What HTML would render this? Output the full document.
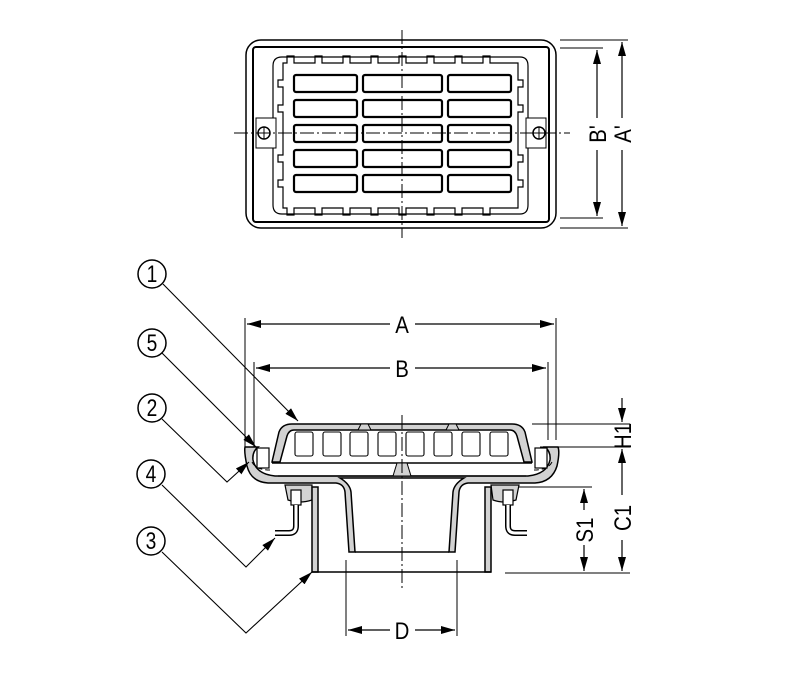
<!DOCTYPE html>
<html><head><style>html,body{margin:0;padding:0;background:#fff}svg{display:block}</style></head><body>
<svg width="800" height="679" viewBox="0 0 800 679" xmlns="http://www.w3.org/2000/svg" font-family="Liberation Sans, sans-serif">
<defs>
<marker id="ar" viewBox="0 0 14 8" refX="14" refY="4" markerWidth="14" markerHeight="8" orient="auto" markerUnits="userSpaceOnUse"><path d="M0,0 L14,4 L0,8z" fill="#000"/></marker>
</defs>
<g fill="none" stroke="#000" stroke-width="1.5">
<!-- TOP VIEW -->
<rect x="246" y="40" width="310" height="188" rx="15"/>
<rect x="253" y="47" width="296" height="175" rx="3" stroke-width="2"/>
<path d="M282,57 H520 Q528,57 528,66 V205 Q528,214 520,214 H282 Q273,214 273,205 V66 Q273,57 282,57Z" stroke-width="1.2"/>
<path d="M283,63 h4 v-7 h7 v7 h21 v-7 h7 v7 h21 v-7 h7 v7 h21 v-7 h7 v7 h21 v-7 h7 v7 h21 v-7 h7 v7 h21 v-7 h7 v7 h21 v-7 h7 v7 h28 V80 h5 v7 h-5 V105 h5 v7 h-5 V155 h5 v7 h-5 V180 h5 v7 h-5 V208 h-28 v7 h-7 v-7 h-21 v7 h-7 v-7 h-21 v7 h-7 v-7 h-21 v7 h-7 v-7 h-21 v7 h-7 v-7 h-21 v7 h-7 v-7 h-21 v7 h-7 v-7 h-21 v7 h-7 v-7 h-4 V187 h-5 v-7 h5 V162 h-5 v-7 h5 V112 h-5 v-7 h5 V87 h-5 v-7 h5 Z" stroke-width="1.2"/>
<g stroke-width="2.2">
<rect x="294" y="75" width="63" height="17" rx="2"/><rect x="363" y="75" width="79" height="17" rx="2"/><rect x="448" y="75" width="63" height="17" rx="2"/>
<rect x="294" y="100" width="63" height="17" rx="2"/><rect x="363" y="100" width="79" height="17" rx="2"/><rect x="448" y="100" width="63" height="17" rx="2"/>
<rect x="294" y="125" width="63" height="17" rx="2"/><rect x="363" y="125" width="79" height="17" rx="2"/><rect x="448" y="125" width="63" height="17" rx="2"/>
<rect x="294" y="150" width="63" height="17" rx="2"/><rect x="363" y="150" width="79" height="17" rx="2"/><rect x="448" y="150" width="63" height="17" rx="2"/>
<rect x="294" y="175" width="63" height="17" rx="2"/><rect x="363" y="175" width="79" height="17" rx="2"/><rect x="448" y="175" width="63" height="17" rx="2"/>
</g>
<rect x="256" y="118" width="20" height="30" stroke-width="1" fill="#fff"/><rect x="526" y="118" width="20" height="30" stroke-width="1" fill="#fff"/>
<circle cx="264" cy="133" r="6"/><circle cx="539" cy="133" r="6"/>
<path d="M264,127v12M258,133h12M539,127v12M533,133h12" stroke-width="1"/>
<path d="M402,30 V238 M234,133 H570" stroke-width="1" stroke-dasharray="14,3,2,3"/>
<!-- dims top -->
<path d="M560,40 H628 M560,228 H628 M560,48 H603 M560,218 H603" stroke-width="1"/>
<path d="M597,118 V50" marker-end="url(#ar)" stroke-width="1.2"/><path d="M597,150 V216" marker-end="url(#ar)" stroke-width="1.2"/>
<path d="M622,118 V42" marker-end="url(#ar)" stroke-width="1.2"/><path d="M622,150 V226" marker-end="url(#ar)" stroke-width="1.2"/>

<!-- SIDE VIEW dims -->
<path d="M245,318 V447 M556,318 V440 M254,362 V447 M548,362 V440" stroke-width="1"/>
<path d="M390,324 H247" marker-end="url(#ar)" stroke-width="1.2"/><path d="M415,324 H554" marker-end="url(#ar)" stroke-width="1.2"/>
<path d="M390,368 H256" marker-end="url(#ar)" stroke-width="1.2"/><path d="M415,368 H546" marker-end="url(#ar)" stroke-width="1.2"/>
<path d="M532,424 H630 M540,447 H630 M515,487 H592 M505,573 H630 M346,560 V636 M457,560 V636" stroke-width="1"/>
<path d="M622,398 V422" marker-end="url(#ar)" stroke-width="1.2"/>
<path d="M622,495 V449" marker-end="url(#ar)" stroke-width="1.2"/>
<path d="M622,540 V571" marker-end="url(#ar)" stroke-width="1.2"/>
<path d="M584,510 V489" marker-end="url(#ar)" stroke-width="1.2"/>
<path d="M584,545 V571" marker-end="url(#ar)" stroke-width="1.2"/>
<path d="M390,630 H348" marker-end="url(#ar)" stroke-width="1.2"/><path d="M415,630 H455" marker-end="url(#ar)" stroke-width="1.2"/>

<!-- frame (gray band) -->
<path d="M245,447 H258 Q252,452 253,460 Q256,474 275,476 H528 Q547,474 550,460 Q551,452 545,447 H558 Q560,452 557,466 Q552,482 535,483 H468 Q460,484 459,492 L455,552 H449 L453,492 Q454,484 464,478 H340 Q350,484 351,492 L355,552 H349 L345,492 Q344,484 336,483 H268 Q251,482 247,466 Q244,452 245,447Z" fill="#d2d2d2"/>
<path d="M252,462 Q256,470 270,470 M552,462 Q548,470 534,470" stroke-width="1" stroke-dasharray="5,3"/>
<path d="M355,552 H449" />
<!-- grate -->
<path d="M272,462 L279,432 Q282,424 292,424 H512 Q522,424 525,432 L532,462 H524 L517,436 Q515,430 510,430 H294 Q289,430 287,436 L280,462Z" fill="#d2d2d2"/>
<path d="M272,463 H532"/>
<path d="M278,476 H526" stroke-width="1.2"/>
<path d="M358,430 L361,424 H368 L371,430Z M446,430 L449,424 H456 L459,430Z M393,476 L397,463 H407 L411,476Z" fill="#d2d2d2" stroke-width="1"/>
<g stroke-width="1.1">
<rect x="295" y="432" width="18" height="24" rx="2"/><rect x="323" y="432" width="18" height="24" rx="2"/><rect x="350" y="432" width="18" height="24" rx="2"/><rect x="378" y="432" width="18" height="24" rx="2"/><rect x="406" y="432" width="18" height="24" rx="2"/><rect x="434" y="432" width="18" height="24" rx="2"/><rect x="462" y="432" width="18" height="24" rx="2"/><rect x="490" y="432" width="18" height="24" rx="2"/>
</g>
<!-- lugs -->
<path d="M285,485 H312 V500 Q300,504 288,500Z M491,485 H519 L516,500 Q504,504 493,500Z" fill="#d2d2d2" stroke-width="1.2"/>
<!-- pipe -->
<path d="M312,487 H318 V572 H312Z M485,487 H491 V572 H485Z" fill="#d2d2d2"/>
<path d="M312,572 H491"/>
<!-- bolts -->
<g fill="#fff" stroke-width="1.2">
<rect x="257" y="448" width="12" height="20"/><rect x="535" y="448" width="12" height="20"/>
<rect x="291" y="490" width="10" height="15"/><rect x="503" y="490" width="10" height="15"/>
</g>
<path d="M296,505 V526 Q296,533 289,533 H275 M508,505 V526 Q508,533 515,533 H527" stroke-width="6"/>
<path d="M296,505 V526 Q296,533 289,533 H275 M508,505 V526 Q508,533 515,533 H527" stroke="#fff" stroke-width="3"/>
<path d="M402,415 V590" stroke-width="1" stroke-dasharray="14,3,2,3"/>

<!-- callouts -->
<circle cx="152" cy="274" r="14" fill="#fff"/><circle cx="152" cy="343" r="14" fill="#fff"/><circle cx="152" cy="408" r="14" fill="#fff"/><circle cx="151" cy="474" r="14" fill="#fff"/><circle cx="151" cy="541" r="14" fill="#fff"/>
<g stroke-width="1.1">
<path d="M163,284 L298,421" marker-end="url(#ar)"/>
<path d="M162,353 L256,447" marker-end="url(#ar)"/>
<path d="M162,419 L227,482 L249,462" marker-end="url(#ar)"/>
<path d="M162,485 L246,567 L275,538" marker-end="url(#ar)"/>
<path d="M162,552 L246,633 L312,572" marker-end="url(#ar)"/>
</g>
</g>
<g font-size="24" fill="#000" text-anchor="middle">
<text transform="translate(152,282) scale(0.8,1)">1</text><text transform="translate(152,351) scale(0.8,1)">5</text><text transform="translate(152,416) scale(0.8,1)">2</text><text transform="translate(151,482) scale(0.8,1)">4</text><text transform="translate(151,549) scale(0.8,1)">3</text>
<text transform="translate(402,333) scale(0.85,1)">A</text><text transform="translate(402,377) scale(0.85,1)">B</text><text transform="translate(402,639) scale(0.85,1)">D</text>
<text transform="translate(606,134) rotate(-90) scale(0.85,1)">B'</text>
<text transform="translate(631,134) rotate(-90) scale(0.85,1)">A'</text>
<text transform="translate(631,436) rotate(-90) scale(0.85,1)">H1</text>
<text transform="translate(631,518) rotate(-90) scale(0.85,1)">C1</text>
<text transform="translate(593,530) rotate(-90) scale(0.85,1)">S1</text>
</g>
</svg>
</body></html>
